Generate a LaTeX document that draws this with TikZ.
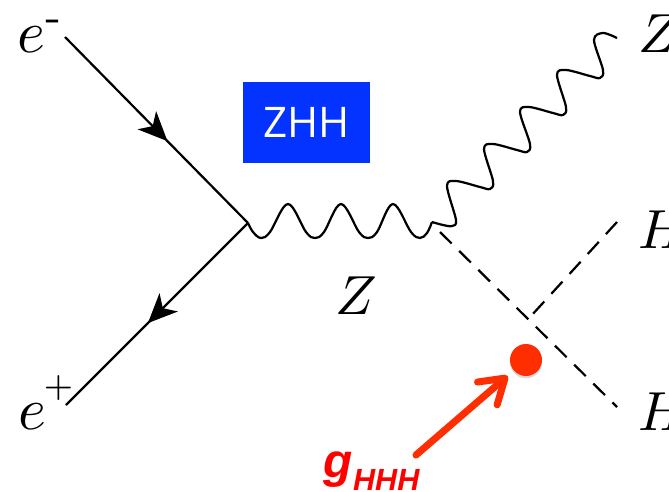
\documentclass[tikz,border=0pt]{standalone}
\usepackage{amsmath}
\usepackage{fontspec}
\setsansfont{Open Sans}
\newfontfamily\gfont{Liberation Sans}
\usetikzlibrary{arrows.meta,decorations.markings,shadows}
\definecolor{zblue}{HTML}{0433FF}
\definecolor{dotred}{HTML}{FF2E00}
\tikzset{
  lab/.style={inner sep=0pt, scale=5.1},
  labb/.style={inner sep=0pt, scale=4.7, anchor=west},
  ferm/.style={line width=1.9pt, postaction={decorate}, decoration={markings, mark=at position #1 with {\arrow{Stealth[length=25pt,width=22pt,inset=7pt]}}}},
  bos/.style={line width=1.9pt, line join=round},
  higgs/.style={line width=1.9pt, dash pattern=on 14pt off 9pt},
  proc/.style={fill=zblue, text=white, font=\sffamily, scale=3.6, inner sep=0pt, minimum width=1.058cm, minimum height=0.675cm},
  point/.style={circle, fill=dotred, minimum size=0.96cm, inner sep=0pt, drop shadow={shadow xshift=0pt, shadow yshift=-2pt, opacity=0.3}},
  garr/.style={-{Straight Barb[length=7mm,width=9mm,round]}, line width=6pt, line cap=round, dotred, shorten >=0.24cm},
}
\begin{document}
\begin{tikzpicture}[x=0.03cm,y=-0.03cm]
\useasboundingbox (0,0) rectangle (669,491);
% outer legs
\coordinate (vee) at (248,223);
\coordinate (vzh) at (432,222);
\coordinate (vhh) at (531,316);
\coordinate (em) at (65,37);
\coordinate (ep) at (66,405);
\coordinate (zend) at (617,38);
\coordinate (h1) at (617,222);
\coordinate (h2) at (617,407);
\coordinate (gtail) at (416,455);
\node[lab] (lem) at (41,36) {$e^{\text{-}}$};
\node[lab, anchor=base west] (lep) at (17,429) {$e^{\kern-0.5pt\raisebox{1.9pt}{$\scriptscriptstyle+$}}$};
\node[labb] (lz) at (637,34) {$Z$};
\node[labb] (lh1) at (637,230) {$H$};
\node[labb] (lh2) at (637,412) {$H$};
\node[labb, anchor=center] (lzint) at (356,296) {$Z$};
\node[proc] (zhh) at (306.5,122.5) {\raisebox{-1pt}{ZHH}};
\node[point] (dot) at (526,360) {};
\node[font=\gfont\bfseries\itshape, red, scale=4.08, inner sep=0pt, anchor=base west] (ghhh) at (323,477) {g\raisebox{-2.9pt}{\fontsize{6.4}{7}\selectfont HHH}};
% lines
\draw[ferm=0.56] (em) -- (vee);
\draw[ferm=0.55] (vee) -- (ep);
\draw[bos] plot[smooth, tension=0.6] coordinates {(vee) (253,232) (261,238) (270,232) (288,204) (306,232) (315,238) (324,232) (341,204) (359,232) (368,238) (377,232) (393,204) (411,232) (420,238) (427,233) (vzh)};
\draw[bos] plot[smooth, tension=0.55] coordinates {(vzh) (443,225) (452,226) (456,220) (447,186) (456,181) (480,187) (490,189) (493,181)
  (484,149) (493,144) (517,150) (527,152) (530,144)
  (520,112) (529,107) (553,113) (563,115) (566,107)
  (557,75) (566,70) (590,76) (600,78) (603,70)
  (594,40) (603,33) (zend)};
\draw[higgs] (vzh) ++(8,10) -- (h2);
\draw[higgs] (h1) -- (vhh);
\draw[garr] (gtail) -- (dot);
\end{tikzpicture}
\end{document}
